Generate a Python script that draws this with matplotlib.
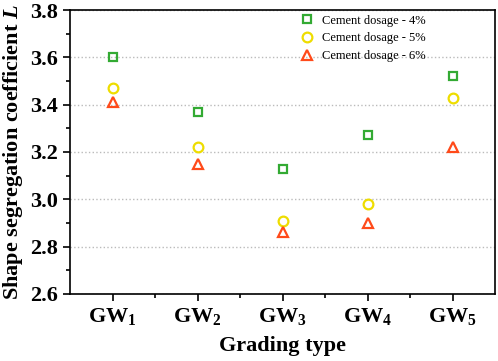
import matplotlib
matplotlib.use("Agg")
import matplotlib.pyplot as plt
from matplotlib.ticker import MultipleLocator, FixedLocator

plt.rcParams["font.family"] = ["Liberation Serif", "DejaVu Serif"]
plt.rcParams["mathtext.fontset"] = "custom"
plt.rcParams["mathtext.rm"] = "Liberation Serif:bold"
plt.rcParams["mathtext.it"] = "Liberation Serif:italic:bold"

grades = [r"GW$_{\mathrm{1}}$", r"GW$_{\mathrm{2}}$", r"GW$_{\mathrm{3}}$",
          r"GW$_{\mathrm{4}}$", r"GW$_{\mathrm{5}}$"]
dosage_4 = [3.60, 3.37, 3.13, 3.27, 3.52]
dosage_5 = [3.47, 3.22, 2.91, 2.98, 3.43]
dosage_6 = [3.41, 3.15, 2.86, 2.90, 3.22]

x = list(range(1, len(grades) + 1))

fig = plt.figure(figsize=(4.98, 3.61), dpi=100)
ax = fig.add_axes([0.1406, 0.186, 0.8534, 0.786])

ax.plot(x, dosage_4, ls="none", marker="s", ms=6, mfc="none", mec="#33aa33", mew=1.6,
        label="Cement dosage - 4%")
ax.plot(x, dosage_5, ls="none", marker="o", ms=7, mfc="none", mec="#eedd00", mew=1.6,
        label="Cement dosage - 5%")
ax.plot(x, dosage_6, ls="none", marker="^", ms=7, mfc="none", mec="#ff4a1a", mew=1.6,
        label="Cement dosage - 6%")

ax.set_xlim(0.5, 5.5)
ax.set_ylim(2.6, 3.8)
ax.set_xticks(x)
ax.set_xticklabels(grades)
ax.xaxis.set_minor_locator(FixedLocator([1.5, 2.5, 3.5, 4.5]))
ax.yaxis.set_major_locator(MultipleLocator(0.2))
ax.yaxis.set_minor_locator(MultipleLocator(0.1))
ax.tick_params(which="both", direction="out", width=1.2)
ax.tick_params(which="major", length=5, labelsize=16)
ax.tick_params(which="minor", length=3)
for lab in ax.get_xticklabels() + ax.get_yticklabels():
    lab.set_fontweight("bold")
for sp in ax.spines.values():
    sp.set_linewidth(1.2)

ax.yaxis.grid(True, ls=":", color="#bbbbbb", lw=1)
ax.set_axisbelow(True)

ax.set_xlabel("Grading type", fontsize=16, fontweight="bold", labelpad=7)
ax.set_ylabel(r"Shape segregation coefficient $\mathit{L}$", fontsize=16,
              fontweight="bold", labelpad=4)

ax.legend(loc="upper right", bbox_to_anchor=(0.855, 1.01), frameon=False, fontsize=9,
          handlelength=1.2, handletextpad=0.6, labelspacing=0.45, borderaxespad=0.2)

fig.savefig("out.png", dpi=100)
